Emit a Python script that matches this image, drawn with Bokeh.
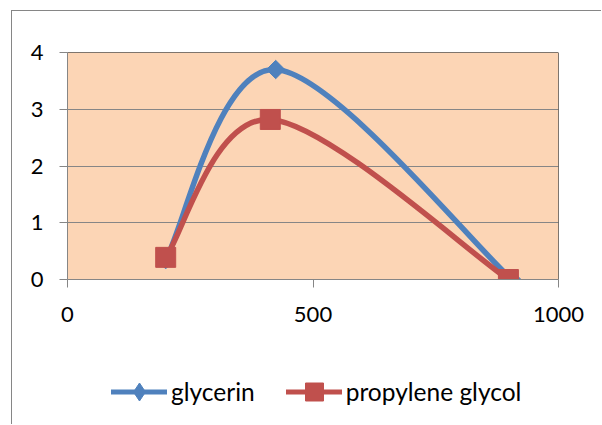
import numpy as np
from bokeh.plotting import figure
from bokeh.layouts import column
from bokeh.models import (ColumnDataSource, FixedTicker, Range1d, Span, Legend,
                          LegendItem)
from bokeh.embed import file_html
from bokeh.resources import INLINE

# ---- data ----
series_names = ["glycerin", "propylene glycol"]
glycerin_x = [200, 424, 905]
glycerin_y = [0.35, 3.70, 0.0]
propylene_x = [200, 413, 898]
propylene_y = [0.39, 2.82, 0.0]
x_ticks = [0, 500, 1000]
y_ticks = [0, 1, 2, 3, 4]

BLUE = "#4F81BD"
RED = "#C0504D"
GRID = "#868686"
FONT = "Lato"
TICK_FS = "22px"
LEG_FS = "24.5px"


def smooth_segments(xs, ys):
    """Excel-like smoothed line: cubic Bezier control points from the points."""
    n = len(xs)
    d = dict(x0=[], y0=[], x1=[], y1=[], cx0=[], cy0=[], cx1=[], cy1=[])
    for i in range(n - 1):
        a = i - 1 if i > 0 else i
        b = i + 2 if i + 2 < n else i + 1
        d["x0"].append(xs[i]); d["y0"].append(ys[i])
        d["x1"].append(xs[i + 1]); d["y1"].append(ys[i + 1])
        d["cx0"].append(xs[i] + (xs[i + 1] - xs[a]) / 6.0)
        d["cy0"].append(ys[i] + (ys[i + 1] - ys[a]) / 6.0)
        d["cx1"].append(xs[i + 1] - (xs[b] - xs[i]) / 6.0)
        d["cy1"].append(ys[i + 1] - (ys[b] - ys[i]) / 6.0)
    return ColumnDataSource(d)


# ---------------- main chart ----------------
p = figure(width=590, height=339, output_backend="svg", toolbar_location=None,
           x_range=Range1d(0, 1000), y_range=Range1d(0, 4),
           min_border_left=55, min_border_right=44, min_border_top=41,
           min_border_bottom=71)
p.styles = {"border-left": "1px solid #868686", "border-top": "1px solid #868686",
            "margin-left": "11px", "margin-top": "10px"}

p.background_fill_color = "#FCD5B5"
p.border_fill_color = "white"
p.outline_line_color = None

p.xgrid.grid_line_color = None
p.ygrid.grid_line_color = GRID
p.ygrid.grid_line_width = 1
p.ygrid.ticker = FixedTicker(ticks=y_ticks)

for ax in (p.xaxis[0], p.yaxis[0]):
    ax.axis_line_color = GRID
    ax.major_tick_line_color = GRID
    ax.minor_tick_line_color = None
    ax.major_tick_in = 0
    ax.major_tick_out = 8
    ax.major_label_text_font = FONT
    ax.major_label_text_font_size = TICK_FS
    ax.major_label_text_color = "black"
p.xaxis[0].ticker = FixedTicker(ticks=x_ticks)
p.yaxis[0].ticker = FixedTicker(ticks=y_ticks)
p.xaxis[0].major_label_standoff = 19
p.yaxis[0].major_label_standoff = 16

# plot-area border (top and right, black)
p.add_layout(Span(location=4, dimension="width", line_color="black", line_width=1))
p.add_layout(Span(location=1000, dimension="height", line_color="black", line_width=1))

# series
p.bezier(source=smooth_segments(glycerin_x, glycerin_y), x0="x0", y0="y0",
         x1="x1", y1="y1", cx0="cx0", cy0="cy0", cx1="cx1", cy1="cy1",
         line_color=BLUE, line_width=5.5, line_cap="round")
p.scatter(glycerin_x, glycerin_y, marker="square", angle=np.pi / 4, size=13,
          fill_color=BLUE, line_color=BLUE)
p.bezier(source=smooth_segments(propylene_x, propylene_y), x0="x0", y0="y0",
         x1="x1", y1="y1", cx0="cx0", cy0="cy0", cx1="cx1", cy1="cy1",
         line_color=RED, line_width=5.5, line_cap="round")
p.scatter(propylene_x, propylene_y, marker="square", size=20,
          fill_color=RED, line_color=RED)

# ---------------- legend strip ----------------
# same series, in a strip whose y-range lies far above the data, so only the
# legend (which needs renderers with data) is visible here
lg = figure(width=590, height=75, output_backend="svg", toolbar_location=None,
            x_range=Range1d(0, 1000), y_range=Range1d(100, 101),
            x_axis_location=None, y_axis_location=None,
            min_border_left=0, min_border_right=0, min_border_top=0,
            min_border_bottom=0)
lg.styles = {"border-left": "1px solid #868686", "margin-left": "11px"}
lg.outline_line_color = None
lg.background_fill_color = "white"
lg.border_fill_color = "white"
for g in lg.grid:
    g.visible = False

lb_line = lg.line(glycerin_x, glycerin_y, line_color=BLUE, line_width=5, line_cap="round")
lb_mark = lg.scatter(glycerin_x, glycerin_y, marker="diamond", size=18,
                     fill_color=BLUE, line_color=BLUE)
lr_line = lg.line(propylene_x, propylene_y, line_color=RED, line_width=5, line_cap="round")
lr_mark = lg.scatter(propylene_x, propylene_y, marker="square", size=18,
                     fill_color=RED, line_color=RED)

legend = Legend(items=[LegendItem(label=series_names[0], renderers=[lb_line, lb_mark]),
                       LegendItem(label=series_names[1], renderers=[lr_line, lr_mark])],
                orientation="horizontal", location=(44, 10),
                glyph_width=56, glyph_height=45, label_standoff=4, spacing=31,
                padding=0, margin=0, border_line_color=None,
                background_fill_alpha=0, label_text_font=FONT,
                label_text_font_size=LEG_FS, label_text_color="black")
lg.add_layout(legend, "center")

layout = column(p, lg, spacing=0)
open("out.html", "w").write(file_html(layout, INLINE))
